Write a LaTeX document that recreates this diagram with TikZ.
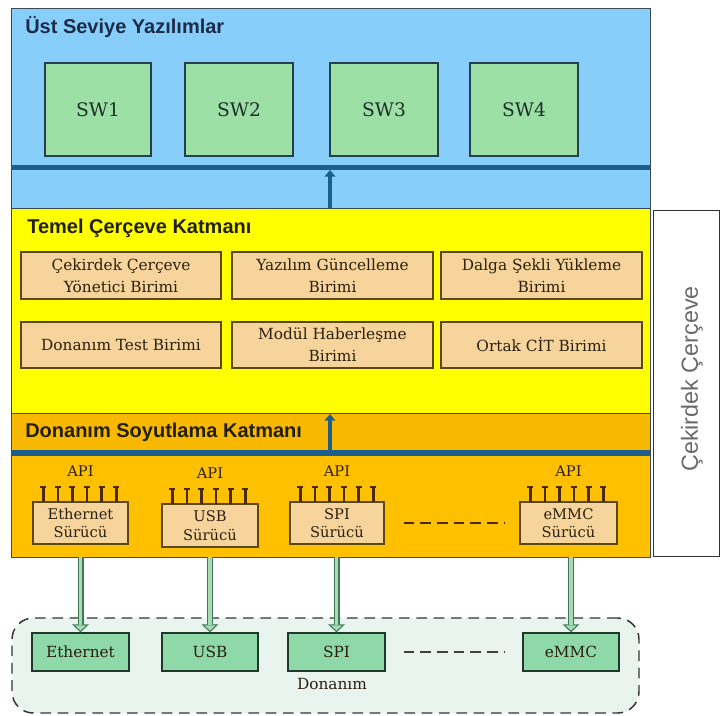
\documentclass[tikz,border=0pt]{standalone}
\usepackage{fontspec}
\setmainfont{DejaVu Serif}
\newfontfamily\headfont{Liberation Sans}
\usetikzlibrary{fit,arrows.meta,calc}
\definecolor{bluereg}{HTML}{87CFFA}
\definecolor{yellowreg}{HTML}{FFFF00}
\definecolor{stripreg}{HTML}{F9B800}
\definecolor{lowreg}{HTML}{FFC000}
\definecolor{barc}{HTML}{1D5F8A}
\definecolor{framec}{HTML}{3A4A50}
\definecolor{swfill}{HTML}{9CE0A6}
\definecolor{swborder}{HTML}{24404E}
\definecolor{swtext}{HTML}{1E2E2A}
\definecolor{unitfill}{HTML}{F6D49C}
\definecolor{unitborder}{HTML}{5A4818}
\definecolor{unittext}{HTML}{2A2010}
\definecolor{pinc}{HTML}{4A2A10}
\definecolor{hwfill}{HTML}{8FD8A8}
\definecolor{hwborder}{HTML}{1F3A2A}
\definecolor{hwreg}{HTML}{EAF4EE}
\definecolor{gdark}{HTML}{3F7A58}
\definecolor{glight}{HTML}{A8DAB4}
\definecolor{navyt}{HTML}{1B2B48}
\definecolor{darkt}{HTML}{22200A}
\definecolor{kernelt}{HTML}{6A6A6A}
\tikzset{
  region/.style={draw=framec, line width=0.6pt, inner sep=0pt},
  swbox/.style={draw=swborder, fill=swfill, line width=1pt, inner sep=0pt},
  swtxt/.style={text=swtext, font=\fontsize{14}{16}\selectfont},
  unitbox/.style={draw=unitborder, fill=unitfill, line width=1.1pt, inner sep=0pt},
  unittxt/.style={align=center, text=unittext, font=\fontsize{11.5}{16.5}\selectfont},
  drvtxt/.style={align=center, text=unittext, font=\fontsize{11}{14}\selectfont},
  hwbox/.style={draw=hwborder, fill=hwfill, line width=1pt, inner sep=0pt},
  hwtxt/.style={text=unittext, font=\fontsize{11.5}{14}\selectfont},
  title/.style={anchor=west, inner sep=0pt, font=\headfont\bfseries\fontsize{15}{18}\selectfont},
  apilabel/.style={inner sep=0pt, text=unittext, font=\fontsize{11}{13}\selectfont},
  pinline/.style={draw=pinc, line width=2pt, -{Bar[width=4.5pt,line width=1.5pt]}},
  hbar/.style={draw=barc, line width=4pt},
  uparrow/.style={draw=barc, line width=3pt, -{Triangle[width=8pt,length=5pt]}},
  dashdrv/.style={draw=pinc, line width=1.3pt, dash pattern=on 8pt off 4.5pt},
  dashhw/.style={draw=black!75, line width=1.1pt, dash pattern=on 8pt off 4.5pt},
  gouter/.style={draw=gdark, line width=4.5pt,
    -{Triangle[width=12.5pt,length=6pt,fill=glight,line width=0.8pt]}},
  ginner/.style={draw=glight, line width=2.4pt, shorten >=5.2pt},
}
\newcommand\hwarrow[2]{\draw[gouter] #1 -- #2; \draw[ginner] #1 -- #2;}
\begin{document}
\begin{tikzpicture}[x=0.75pt,y=-0.75pt]
\useasboundingbox (0,0) rectangle (721,715);

% ---- regions
\node[region, fill=bluereg, fit={(11,8) (650,208)}] (blue) {};
\node[region, fill=yellowreg, fit={(11,208) (650,413)}] (yellow) {};
\node[region, fill=stripreg, fit={(11,413) (650,453)}] (strip) {};
\node[region, fill=lowreg, fit={(11,453) (650,557)}] (low) {};

% ---- kernel box
\node[draw=black!80, line width=0.7pt, inner sep=0pt, fit={(653,210) (719,556)}] (kernel) {};
\node[rotate=90, inner sep=0pt, text=kernelt, font=\headfont\fontsize{17.5}{20}\selectfont]
  (kernellbl) at (692,379) {Çekirdek Çerçeve};

% ---- titles
\node[title, text=navyt] (t1) at (25,27) {Üst Seviye Yazılımlar};
\node[title, text=darkt] (t2) at (27,228) {Temel Çerçeve Katmanı};
\node[title, text=darkt] (t3) at (25,432) {Donanım Soyutlama Katmanı};

% ---- SW boxes
\node[swbox, fit={(45,63) (151,156)}, label={[swtxt]center:SW1}] (sw1) {};
\node[swbox, fit={(185,63) (293,156)}, label={[swtxt]center:SW2}] (sw2) {};
\node[swbox, fit={(330,63) (438,156)}, label={[swtxt]center:SW3}] (sw3) {};
\node[swbox, fit={(470,63) (578,156)}, label={[swtxt]center:SW4}] (sw4) {};

% ---- bars and up arrows
\coordinate (barL1) at (11,167.5);
\coordinate (barR1) at (650,167.5);
\draw[hbar] (barL1) -- (barR1);
\coordinate (barL2) at (11,453);
\coordinate (barR2) at (650,453);
\draw[hbar] (barL2) -- (barR2);
\coordinate (upA0) at (330,208);
\coordinate (upA1) at (330,170);
\draw[uparrow] (upA0) -- (upA1);
\coordinate (upB0) at (330,450);
\coordinate (upB1) at (330,414);
\draw[uparrow] (upB0) -- (upB1);

% ---- framework units
\node[unitbox, fit={(21,252) (221,299)}, label={[unittxt]center:Çekirdek Çerçeve\\Yönetici Birimi}] (u1) {};
\node[unitbox, fit={(232,252) (433,299)}, label={[unittxt]center:Yazılım Güncelleme\\Birimi}] (u2) {};
\node[unitbox, fit={(441,252) (642,299)}, label={[unittxt]center:Dalga Şekli Yükleme\\Birimi}] (u3) {};
\node[unitbox, fit={(21,322) (221,368)}, label={[unittxt]center:Donanım Test Birimi}] (u4) {};
\node[unitbox, fit={(232,322) (433,368)}, label={[unittxt]center:Modül Haberleşme\\Birimi}] (u5) {};
\node[unitbox, fit={(441,322) (642,368)}, label={[unittxt]center:Ortak CİT Birimi}] (u6) {};

% ---- drivers
\node[unitbox, fit={(33,502) (128,544)}, label={[drvtxt]center:Ethernet\\Sürücü}] (d1) {};
\node[unitbox, fit={(162,504) (258,547)}, label={[drvtxt]center:USB\\Sürücü}] (d2) {};
\node[unitbox, fit={(290,502) (384,544)}, label={[drvtxt]center:SPI\\Sürücü}] (d3) {};
\node[unitbox, fit={(520,502) (617,544)}, label={[drvtxt]center:eMMC\\Sürücü}] (d4) {};
\foreach \d in {d1,d2,d3,d4}{
  \foreach \i in {0,...,5}{
    \draw[pinline] ($(\d.north west)+(11+\i*14.6,0.5)$) -- ++(0,-16);
  }
  \node[apilabel] at ($(\d.north)+(0,-30)$) {API};
}
\draw[dashdrv] ([xshift=19*0.75pt]d3.east) -- ([xshift=-15*0.75pt]d4.west);

% ---- hardware
\node[draw=black!80, fill=hwreg, line width=1.1pt, dash pattern=on 8pt off 5pt,
  rounded corners=16pt, inner sep=0pt, fit={(12,618) (639,713)}] (hwreg) {};
\node[hwbox, fit={(32,633) (129,671)}, label={[hwtxt]center:Ethernet}] (h1) {};
\node[hwbox, fit={(162,633) (258,671)}, label={[hwtxt]center:USB}] (h2) {};
\node[hwbox, fit={(288,633) (385,671)}, label={[hwtxt]center:SPI}] (h3) {};
\node[hwbox, fit={(523,633) (619,671)}, label={[hwtxt]center:eMMC}] (h4) {};
\node[inner sep=0pt, hwtxt] (hwlbl) at (332,684) {Donanım};
\draw[dashhw] ([xshift=18*0.75pt]h3.east) -- ([xshift=-18*0.75pt]h4.west);

% ---- driver to hardware arrows
\hwarrow{(h1.north |- low.south)}{(h1.north)}
\hwarrow{(h2.north |- low.south)}{(h2.north)}
\hwarrow{(h3.north |- low.south)}{(h3.north)}
\hwarrow{(h4.north |- low.south)}{(h4.north)}
\end{tikzpicture}
\end{document}
